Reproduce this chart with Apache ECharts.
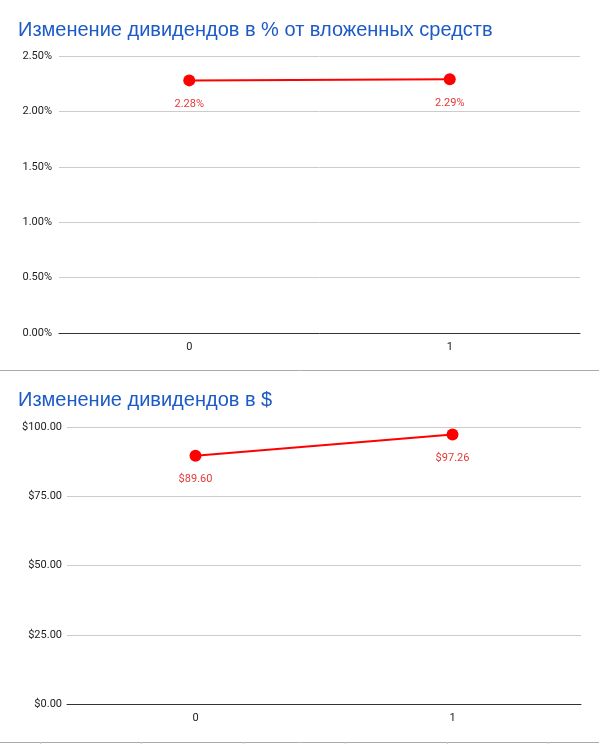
<!DOCTYPE html>
<html><head><meta charset="utf-8">
<script src="https://cdn.jsdelivr.net/npm/echarts@6/dist/echarts.min.js"></script>
<style>html,body{margin:0;padding:0;background:#fff}#c{width:599px;height:744px}</style>
</head><body><div id="c"></div>
<script>
const categories = ['0', '1'];
const pctValues = [2.28, 2.29];
const usdValues = [89.60, 97.26];
const pctTicks = { min: 0, max: 2.5, interval: 0.5 };
const usdTicks = { min: 0, max: 100, interval: 25 };
const titles = ['Изменение дивидендов в % от вложенных средств', 'Изменение дивидендов в $'];

const chart = echarts.init(document.getElementById('c'), null, { renderer: 'canvas' });
const font = 'Roboto, Arial, sans-serif';
function xAx(i){return {type:'category',gridIndex:i,data:categories,boundaryGap:true,
  axisLine:{show:true,lineStyle:{color:'#333',width:1}},axisTick:{show:false},
  axisLabel:{color:'#222',fontSize:11,fontFamily:font,margin:9},splitLine:{show:false}};}
function yAx(i,t,fmt,m){return {type:'value',gridIndex:i,min:t.min,max:t.max,interval:t.interval,
  axisLine:{show:false},axisTick:{show:false},
  axisLabel:{color:'#222',fontSize:11,fontFamily:font,margin:m,formatter:fmt},
  splitLine:{lineStyle:{color:'#cccccc',width:1}}};}
function ser(i,data,fmt){return {type:'line',xAxisIndex:i,yAxisIndex:i,data:data,
  symbol:'circle',symbolSize:12,lineStyle:{color:'#ff0000',width:2},itemStyle:{color:'#ff0000'},
  label:{show:true,position:'bottom',distance:12,color:'#e53935',fontSize:11,fontFamily:font,formatter:fmt},
  emphasis:{disabled:true},animation:false};}
const bottomTicks = [40,141,243,345,447,548].map(x=>({type:'line',shape:{x1:x+0.5,y1:742,x2:x+0.5,y2:744},style:{stroke:'#cccccc',lineWidth:1},silent:true}));
chart.setOption({
  animation:false,
  title:[
    {text:titles[0],left:13,top:15,textStyle:{color:'#1c5ac6',fontSize:20,fontWeight:'normal',fontFamily:'Arial, "Liberation Sans", sans-serif'}},
    {text:titles[1],left:13,top:385,textStyle:{color:'#1c5ac6',fontSize:20,fontWeight:'normal',fontFamily:'Arial, "Liberation Sans", sans-serif'}}
  ],
  grid:[
    {left:59,right:19,top:56,height:277},
    {left:67,right:18,top:427,height:277}
  ],
  xAxis:[xAx(0),xAx(1)],
  yAxis:[yAx(0,pctTicks,v=>v.toFixed(2)+'%',7),yAx(1,usdTicks,v=>'$'+v.toFixed(2),5)],
  series:[
    ser(0,pctValues,p=>p.value.toFixed(2)+'%'),
    ser(1,usdValues,p=>'$'+p.value.toFixed(2))
  ],
  graphic:[
    {type:'line',shape:{x1:0,y1:370.5,x2:599,y2:370.5},style:{stroke:'#aaaaaa',lineWidth:1},silent:true},
    {type:'line',shape:{x1:0,y1:742.5,x2:599,y2:742.5},style:{stroke:'#aaaaaa',lineWidth:1},silent:true}
  ].concat(bottomTicks)
});
</script></body></html>
